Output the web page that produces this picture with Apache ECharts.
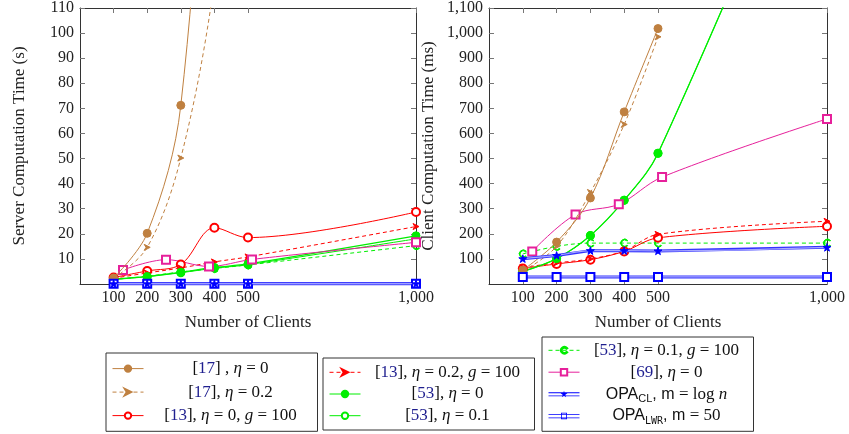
<!DOCTYPE html>
<html><head><meta charset="utf-8">
<script src="https://cdn.jsdelivr.net/npm/echarts@6/dist/echarts.min.js"></script>
<style>html,body{margin:0;padding:0;background:#fff}#c{width:849px;height:434px}</style>
</head><body><div id="c"></div>
<script>
// ---------- data ----------
const clientsX = [100, 200, 300, 400, 500, 1000];
const ref69X = [128, 256, 384, 512, 1000];
const xTicks = [100, 200, 300, 400, 500, 1000];
const serverTicks = [10, 20, 30, 40, 50, 60, 70, 80, 90, 100, 110];
const clientTicks = [100, 200, 300, 400, 500, 600, 700, 800, 900, 1000, 1100];

// server computation time (s)
const srv17eta0   = [2.4, 20.2, 71.2, 260, 520, null];
const srv17eta02  = [2.2, 14.6, 50.2, 120, 235, null];
const srv13eta0   = [2.6, 5.2, 7.8, 22.4, 18.5, 28.7];
const srv13eta02  = [2.3, 4.4, 6.4, 8.8, 10.8, 22.9];
const srv53eta0   = [1.9, 3.0, 4.7, 6.6, 8.0, 19.2];
const srv53eta01  = [1.8, 2.9, 4.5, 6.3, 7.7, 18.0];
const srv53eta01g = [1.8, 3.1, 4.8, 6.2, 7.6, 15.3];
const srv69eta0   = [5.6, 9.7, 7.0, 9.8, 16.6];
const srvOpaCL    = [0.1, 0.1, 0.1, 0.1, 0.1, 0.1];
const srvOpaLWR   = [0.05, 0.05, 0.05, 0.05, 0.05, 0.05];

// client computation time (ms)
const cli17eta0   = [55, 167, 343, 686, 1018, null];
const cli17eta02  = [50, 150, 365, 636, 985, null];
const cli13eta0   = [62, 80, 97, 130, 184, 230];
const cli13eta02  = [66, 84, 100, 132, 198, 250];
const cli53eta0   = [50, 101, 193, 334, 521, 2080];
const cli53eta01  = [50, 101, 193, 334, 521, 2080];
const cli53eta01g = [120, 150, 163, 163, 163, 163];
const cli69eta0   = [130, 277, 318, 426, 658];
const cliOpaCL    = [101, 114, 133, 133, 132, 146];
const cliOpaLWR   = [28, 28, 28, 28, 28, 28];

const seriesNames = ['r17e0', 'r17e02', 'r13e0', 'r13e02', 'r53e0', 'r53e01', 'r53e01g', 'r69e0', 'opaCL', 'opaLWR'];
const legendLabels = {
  r17e0:  '{t|[}{c|17}{t|] , }{i|η}{t| = 0}',
  r17e02: '{t|[}{c|17}{t|], }{i|η}{t| = 0.2}',
  r13e0:  '{t|[}{c|13}{t|], }{i|η}{t| = 0, }{i|g}{t| = 100}',
  r13e02: '{t|[}{c|13}{t|], }{i|η}{t| = 0.2, }{i|g}{t| = 100}',
  r53e0:  '{t|[}{c|53}{t|], }{i|η}{t| = 0}',
  r53e01: '{t|[}{c|53}{t|], }{i|η}{t| = 0.1}',
  r53e01g:'{t|[}{c|53}{t|], }{i|η}{t| = 0.1, }{i|g}{t| = 100}',
  r69e0:  '{t|[}{c|69}{t|], }{i|η}{t| = 0}',
  opaCL:  '{s|OPA}{b|CL}{s|, m }{t|= log }{i|n}',
  opaLWR: '{s|OPA}{m|LWR}{s|, m }{t|= 50}'
};
const xTitle = 'Number of Clients';
const yTitleServer = 'Server Computation Time (s)';
const yTitleClient = 'Client Computation Time (ms)';

// ---------- styles ----------
const BROWN = '#bf8040', RED = '#ff0000', GREEN = '#00ee00', PINK = '#e6209b', BLUE = '#0000ff';
const starPath = 'path://M50,0L61,35L98,35L68,57L79,91L50,70L21,91L32,57L2,35L39,35Z';
const arrowPath = 'path://M0,0L10,5L0,10L3,5Z';
const curlPath = 'path://M8.45,2.11A4.5,4.5 0 1 0 8.45,7.89L7.68,7.25A3.5,3.5 0 1 1 7.68,2.75Z';
const iconCL = 'path://M0,3h31v0.8h-31z M0,6.2h31v0.8h-31z M15.5,1.5L16.3,4L19,4L16.8,5.5L17.6,8L15.5,6.5L13.4,8L14.2,5.5L12,4L14.7,4Z';
const iconLWR = 'path://M0,3h31v0.8h-31z M0,6.2h31v0.8h-31z M12.5,1.5h6v6.5h-6z M13.3,2.3v4.9h4.4v-4.9z';

const styleOf = {
  r17e0:  {color: BROWN, dash: 'solid', symbol: 'circle', size: 8, z: 5},
  r17e02: {color: BROWN, dash: [4, 3], symbol: arrowPath, size: 6, z: 5},
  r13e0:  {color: RED, dash: 'solid', symbol: 'emptyCircle', size: 8, z: 4},
  r13e02: {color: RED, dash: [4, 3], symbol: arrowPath, size: 6, z: 4},
  r53e0:  {color: GREEN, dash: 'solid', symbol: 'circle', size: 8, z: 4, width: 1.3},
  r53e01: {color: GREEN, dash: 'solid', symbol: 'emptyCircle', size: 7, z: 3},
  r53e01g:{color: GREEN, dash: [4, 3], symbol: curlPath, size: 8, z: 3},
  r69e0:  {color: PINK, dash: 'solid', symbol: 'emptyRect', size: 8, z: 4},
  opaCL:  {color: BLUE, dash: 'solid', symbol: starPath, size: 8, z: 7, dbl: true},
  opaLWR: {color: BLUE, dash: 'solid', symbol: 'emptyRect', size: 8, z: 6, dbl: true}
};

function pairs(xs, ys) {
  const out = [];
  ys.forEach((y, i) => { if (y !== null) out.push([xs[i], y]); });
  return out;
}

function makeSeries(name, xs, ys, gi) {
  const st = styleOf[name];
  const list = [];
  const data = pairs(xs, ys);
  if (st.dbl) {
    list.push({
      type: 'line', name: name + '_base', xAxisIndex: gi * 2, yAxisIndex: gi * 2,
      data: data, symbol: 'none', silent: true, z: st.z - 1,
      lineStyle: {color: '#3333ff', width: 3}
    });
  }
  list.push({
    type: 'line', name: name, xAxisIndex: gi * 2, yAxisIndex: gi * 2,
    data: data, smooth: 0.35, z: st.z,
    symbol: st.symbol, symbolSize: st.size, symbolKeepAspect: true,
    itemStyle: {color: st.color, borderColor: st.color, borderWidth: 1},
    lineStyle: {color: st.dbl ? '#a8a8ff' : st.color, width: st.dbl ? 1.2 : (st.width || 1), type: st.dash}
  });
  return list;
}

const series = [];
const srvSets = {r17e0: srv17eta0, r17e02: srv17eta02, r13e0: srv13eta0, r13e02: srv13eta02, r53e0: srv53eta0,
  r53e01: srv53eta01, r53e01g: srv53eta01g, r69e0: srv69eta0, opaCL: srvOpaCL, opaLWR: srvOpaLWR};
const cliSets = {r17e0: cli17eta0, r17e02: cli17eta02, r13e0: cli13eta0, r13e02: cli13eta02, r53e0: cli53eta0,
  r53e01: cli53eta01, r53e01g: cli53eta01g, r69e0: cli69eta0, opaCL: cliOpaCL, opaLWR: cliOpaLWR};
seriesNames.forEach(n => {
  const xs = n === 'r69e0' ? ref69X : clientsX;
  makeSeries(n, xs, srvSets[n], 0).forEach(s => series.push(s));
});
seriesNames.forEach(n => {
  const xs = n === 'r69e0' ? ref69X : clientsX;
  makeSeries(n, xs, cliSets[n], 1).forEach(s => series.push(s));
});

const SERIF = 'Liberation Serif';
const fmtNum = v => String(v).replace(/\B(?=(\d{3})+(?!\d))/g, ',');
const frame = {show: true, onZero: false, lineStyle: {color: '#333', width: 1}};

function xAxes(gi) {
  return [
    {gridIndex: gi, type: 'value', min: 0, max: 1000, position: 'bottom',
     axisLine: frame, splitLine: {show: false},
     axisTick: {show: true, inside: true, length: 5, customValues: xTicks, lineStyle: {color: '#777'}},
     axisLabel: {customValues: xTicks, formatter: fmtNum, margin: 6, fontFamily: SERIF, fontSize: 16, color: '#222'},
     name: xTitle, nameLocation: 'middle', nameGap: 30,
     nameTextStyle: {fontFamily: SERIF, fontSize: 17, color: '#222'}},
    {gridIndex: gi, type: 'value', min: 0, max: 1000, position: 'top',
     axisLine: frame, splitLine: {show: false},
     axisTick: {show: true, inside: true, length: 5, customValues: xTicks, lineStyle: {color: '#777'}},
     axisLabel: {show: false}}
  ];
}
function yAxes(gi, max, ticks, title) {
  return [
    {gridIndex: gi, type: 'value', min: 0, max: max, position: 'left',
     axisLine: frame, splitLine: {show: false},
     axisTick: {show: true, inside: true, length: 5, customValues: ticks, lineStyle: {color: '#777'}},
     axisLabel: {customValues: ticks, formatter: fmtNum, margin: 6, fontFamily: SERIF, fontSize: 16, color: '#222'},
     name: title, nameLocation: 'middle', nameGap: 52, nameRotate: 90,
     nameTextStyle: {fontFamily: SERIF, fontSize: 17, color: '#222'}},
    {gridIndex: gi, type: 'value', min: 0, max: max, position: 'right',
     axisLine: frame, splitLine: {show: false},
     axisTick: {show: true, inside: true, length: 5, customValues: ticks, lineStyle: {color: '#777'}},
     axisLabel: {show: false}}
  ];
}

const richBase = {fontFamily: SERIF, fontSize: 17, color: '#111', align: 'center', lineHeight: 20};
const rich = {
  t: Object.assign({}, richBase),
  c: Object.assign({}, richBase, {color: '#1f1f8f'}),
  i: Object.assign({}, richBase, {fontStyle: 'italic'}),
  s: Object.assign({}, richBase, {fontFamily: 'Liberation Sans', fontSize: 16}),
  b: Object.assign({}, richBase, {fontFamily: 'Liberation Sans', fontSize: 11, lineHeight: 12, verticalAlign: 'bottom'}),
  m: Object.assign({}, richBase, {fontFamily: 'DejaVu Sans Mono', fontSize: 10, lineHeight: 12, verticalAlign: 'bottom'})
};
const iconItemStyle = {color: BLUE, borderWidth: 0};
function legendBox(names, left, top, pad, gap) {
  return {
    orient: 'vertical', left: left, top: top, padding: pad, itemGap: gap,
    itemWidth: 31, itemHeight: 8, borderColor: '#333', borderWidth: 1,
    selectedMode: false, backgroundColor: '#fff',
    lineStyle: {width: 1},
    data: names.map(n => n === 'opaCL' ? {name: n, icon: iconCL, itemStyle: iconItemStyle}
                      : n === 'opaLWR' ? {name: n, icon: iconLWR, itemStyle: iconItemStyle} : {name: n}),
    formatter: n => legendLabels[n],
    textStyle: {width: 164, lineHeight: 20, rich: rich}
  };
}

const option = {
  animation: false,
  backgroundColor: '#fff',
  grid: [
    {left: 80, top: 5, width: 336, height: 279},
    {left: 489, top: 5, width: 338, height: 279}
  ],
  xAxis: xAxes(0).concat(xAxes(1)),
  yAxis: yAxes(0, 110, serverTicks, yTitleServer).concat(yAxes(1, 1100, clientTicks, yTitleClient)),
  legend: [
    legendBox(['r17e0', 'r17e02', 'r13e0'], 106, 353, [5.6, 5, 5.7, 6], 3.5),
    legendBox(['r13e02', 'r53e0', 'r53e01'], 323, 358, [4.3, 5, 4.3, 6], 1.7),
    legendBox(['r53e01g', 'r69e0', 'opaCL', 'opaLWR'], 542, 337, [3.3, 5, 5.3, 6], 1.9)
  ],
  series: series
};
const chart = echarts.init(document.getElementById('c'), null, {renderer: 'canvas'});
chart.setOption(option);
</script>
</body></html>
